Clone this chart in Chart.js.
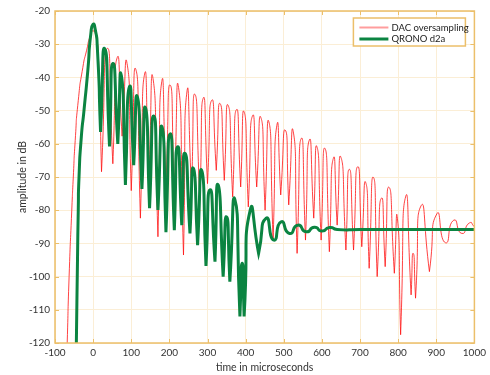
<!DOCTYPE html>
<html>
<head>
<meta charset="utf-8">
<script src="https://cdn.jsdelivr.net/npm/chart.js@4.4.0/dist/chart.umd.min.js"></script>
<style>
  html, body { margin: 0; padding: 0; background: #fff; }
  #wrap { width: 490px; height: 375px; position: relative; }
</style>
</head>
<body>
<div id="wrap"><canvas id="chart"></canvas></div>
<script>
// axis ticks
const xTicks = [-100, 0, 100, 200, 300, 400, 500, 600, 700, 800, 900, 1000];
const yTicks = [-120, -110, -100, -90, -80, -70, -60, -50, -40, -30, -20];

const seriesNames = ['DAC oversampling', 'QRONO d2a'];

// DAC oversampling: main lobe, then null / peak pairs
const dacTime = [
  -68, -63, -56, -52, -47, -39, -27, -17, -7, 0, 7, 14,
  22, 37, 51.7, 63, 76, 89, 100, 112, 124, 135, 146, 157, 170, 180, 191, 202, 213, 224,
  237, 246, 258, 267, 280, 289, 300, 311, 323, 333, 344, 354, 366, 376, 387, 396,
  407, 418, 429, 440, 451, 461, 472, 482, 492, 504, 513, 525, 535, 546, 557, 567,
  578.6, 587, 598, 608, 619.6, 630, 640, 650, 663, 672, 683, 694, 704.6, 715, 724, 735,
  745, 756, 766, 776, 790, 798, 806.5, 819.5, 834, 839.5, 845.6, 860, 882, 902, 924, 946,
  967, 987.5, 1000
];
const dacLevel = [
  -120, -100, -80, -70, -59, -47, -37, -31.8, -27.3, -26, -27.5, -34,
  -68.4, -31.3, -66, -34.1, -57.7, -35.8, -74.1, -37.6, -82.4, -39, -70, -40.3, -88, -41.3, -72, -42.3, -74, -43,
  -93.5, -44.4, -74, -45.1, -77, -46.2, -72, -46.9, -68, -47.9, -71, -48.4, -76, -49.7, -73, -50.4,
  -79, -51.6, -73, -52.1, -80, -53.4, -89, -54.4, -75.4, -55.9, -78.4, -56.4, -93, -58.4, -89, -58.9,
  -82.4, -60.9, -89, -61.4, -92.5, -64.4, -84.5, -64.1, -92, -67.7, -92, -66.9, -91, -71.7, -97.5, -70.1,
  -100, -76.4, -97, -73.1, -99, -82.4, -117.5, -76, -105.5, -93, -106.5, -78.7, -98.5, -81, -89.8, -83,
  -87, -83.8, -85
];

// QRONO d2a
const qronoTime = [
  -44, -41, -39, -37, -31, -24, -14, -6, 0, 5, 11,
  19.5, 30.5, 43, 52, 64.7, 74, 84.7, 95, 106.4, 116, 128, 137.5, 148, 159, 170, 181,
  191, 202, 213, 221.5, 232.5, 241, 254, 263, 274, 285, 296, 306.5, 319.6, 328, 341, 350,
  358.6, 372, 385, 391, 396, 412, 434, 454, 474, 493, 515, 537, 558.6, 580.5, 600, 620,
  640, 700, 800, 900, 1000
];
const qronoLevel = [
  -120, -95, -80, -70, -58, -50, -38, -26.8, -24, -25.2, -31,
  -56.4, -31.4, -60.8, -35.8, -60, -39.4, -72.4, -42.9, -66.4, -45.9, -73.6, -49.2, -79.4, -51.6, -79.9, -55,
  -86.6, -57, -86, -60.9, -84.5, -62.9, -87, -67.4, -90.5, -68.1, -96.8, -73.9, -95.5, -72.4, -100, -82,
  -101.5, -76.9, -112, -96, -112, -80, -93, -82.4, -89, -83.5, -87, -84.5, -86.5, -85.1, -86.3, -85.2,
  -85.8, -85.8, -85.8, -85.8, -85.8
];

// a deep null is repeated so the curve meets it as a sharp notch
function toPoints(xs, ys) {
  const pts = [];
  for (let i = 0; i < xs.length; i++) {
    pts.push({ x: xs[i], y: ys[i] });
    if (i > 0 && i < xs.length - 1 && ys[i] < ys[i - 1] - 10 && ys[i] < ys[i + 1] - 10) {
      pts.push({ x: xs[i], y: ys[i] });
    }
  }
  return pts;
}

const gold = '#ecbf6a';
const textColor = '#333';
const fontFamily = 'Lato, "Open Sans", sans-serif';
const legendColors = ['#ff9d9d', '#0b8441'];
const legendWidths = [2, 3];

// gold frame with inward tick marks, plus the boxed legend
const frame = {
  id: 'frame',
  afterDraw(chart) {
    const { ctx, chartArea: a, scales } = chart;
    ctx.save();
    ctx.strokeStyle = gold;
    ctx.lineWidth = 1.5;
    ctx.strokeRect(a.left, a.top, a.right - a.left, a.bottom - a.top);
    ctx.lineWidth = 1;
    ctx.beginPath();
    xTicks.forEach(v => {
      const px = Math.round(scales.x.getPixelForValue(v)) + 0.5;
      ctx.moveTo(px, a.bottom); ctx.lineTo(px, a.bottom - 4);
      ctx.moveTo(px, a.top); ctx.lineTo(px, a.top + 4);
    });
    yTicks.forEach(v => {
      const py = Math.round(scales.y.getPixelForValue(v)) + 0.5;
      ctx.moveTo(a.left, py); ctx.lineTo(a.left + 4, py);
      ctx.moveTo(a.right, py); ctx.lineTo(a.right - 4, py);
    });
    ctx.stroke();

    const w = 112, h = 28;
    const left = a.right - 9 - w, top = a.top + 7;
    ctx.fillStyle = '#fff';
    ctx.fillRect(left, top, w, h);
    ctx.lineWidth = 1.5;
    ctx.strokeRect(left, top, w, h);
    ctx.font = '9.5px ' + fontFamily;
    ctx.textBaseline = 'middle';
    seriesNames.forEach((name, i) => {
      const y = top + 9.5 + i * 11.5;
      ctx.strokeStyle = legendColors[i];
      ctx.lineWidth = legendWidths[i];
      ctx.beginPath();
      ctx.moveTo(left + 6, y); ctx.lineTo(left + 35, y);
      ctx.stroke();
      ctx.fillStyle = '#222';
      ctx.fillText(name, left + 38, y);
    });
    ctx.restore();
  }
};

new Chart(document.getElementById('chart'), {
  type: 'line',
  data: {
    datasets: [
      {
        label: seriesNames[0],
        data: toPoints(dacTime, dacLevel),
        borderColor: 'rgba(255, 20, 20, 0.8)',
        borderWidth: 1,
        tension: 0.75,
        pointRadius: 0,
        order: 1
      },
      {
        label: seriesNames[1],
        data: toPoints(qronoTime, qronoLevel),
        borderColor: '#0b8441',
        borderWidth: 3,
        tension: 0.75,
        pointRadius: 0,
        order: 0
      }
    ]
  },
  options: {
    responsive: true,
    maintainAspectRatio: false,
    animation: false,
    devicePixelRatio: 1,
    layout: { padding: { left: 0, right: 13, top: 11, bottom: 0 } },
    plugins: { legend: { display: false }, tooltip: { enabled: false } },
    scales: {
      x: {
        type: 'linear',
        min: -100,
        max: 1000,
        afterBuildTicks: s => { s.ticks = xTicks.map(v => ({ value: v })); },
        afterFit: s => { s.height = 32; },
        grid: { color: '#fbeed6', drawTicks: false },
        border: { display: false },
        ticks: { color: textColor, font: { family: fontFamily, size: 10 }, padding: 4, maxRotation: 0, autoSkip: false, callback: v => String(v) },
        title: { display: true, text: 'time in microseconds', color: textColor, font: { family: fontFamily, size: 10.5 }, padding: { top: 0, bottom: 1 } }
      },
      y: {
        min: -120,
        max: -20,
        afterBuildTicks: s => { s.ticks = yTicks.map(v => ({ value: v })); },
        afterFit: s => { s.width = 55; },
        grid: { color: '#fbeed6', drawTicks: false },
        border: { display: false },
        ticks: { color: textColor, font: { family: fontFamily, size: 10 }, padding: 5, autoSkip: false, callback: v => String(v) },
        title: { display: true, text: 'amplitude in dB', color: textColor, font: { family: fontFamily, size: 10.5 }, padding: { top: 16, bottom: 0 } }
      }
    }
  },
  plugins: [frame]
});
</script>
</body>
</html>
